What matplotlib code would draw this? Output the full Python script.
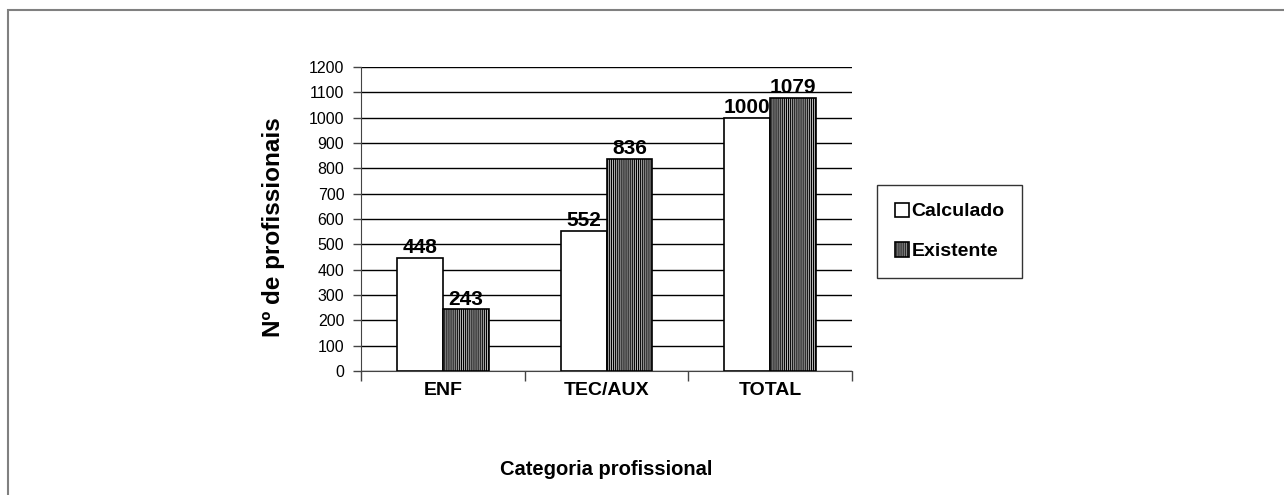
import matplotlib.pyplot as plt
import matplotlib.patches as mpatches
import numpy as np

plt.rcParams['font.family'] = ['Liberation Sans', 'DejaVu Sans']
plt.rcParams['hatch.linewidth'] = 0.8
plt.rcParams['hatch.color'] = '#474747'

categorias = ["ENF", "TEC/AUX", "TOTAL"]
calculado = [448, 552, 1000]
existente = [243, 836, 1079]

W, H = 1284, 495
fig = plt.figure(figsize=(W / 100, H / 100), dpi=100)

# outer gray frame (runs off the right and bottom edges)
fig.patches.append(mpatches.Rectangle((8 / W, -1), 2, 2 - 10 / H, transform=fig.transFigure,
                                      fill=False, edgecolor='#808080', linewidth=1.5))

ax = fig.add_axes([361 / W, 1 - 371 / H, (852 - 361) / W, (371 - 67) / H])

x = np.arange(len(categorias))
w = 0.28
b1 = ax.bar(x - w / 2, calculado, w, color='white', edgecolor='black', linewidth=1.2,
            label='Calculado', zorder=3)
b2 = ax.bar(x + w / 2, existente, w, color='#bdbdbd', edgecolor='black', linewidth=1.2,
            hatch='||||||||', label='Existente', zorder=3)
for bars in (b1, b2):
    for r in bars:
        ax.text(r.get_x() + r.get_width() / 2, r.get_height() + 3, str(int(r.get_height())),
                ha='center', va='bottom', fontsize=15, fontweight='bold', zorder=4)

ax.set_xlim(-0.5, 2.5)
ax.set_ylim(0, 1200)
ax.set_yticks(range(0, 1201, 100))
ax.yaxis.grid(True, color='black', linewidth=1, zorder=0)
ax.tick_params(axis='y', labelsize=11.5, length=6, width=1, pad=6, color='#444444')

ax.set_xticks([-0.5, 0.5, 1.5, 2.5])
ax.set_xticklabels([])
ax.tick_params(axis='x', which='major', length=7, width=1, color='#444444')
ax.set_xticks(x, minor=True)
ax.set_xticklabels(categorias, minor=True, fontsize=14, fontweight='bold')
ax.tick_params(axis='x', which='minor', length=0, pad=8)

for s in ('top', 'right'):
    ax.spines[s].set_visible(False)
ax.spines['left'].set_color('#444444')
ax.spines['bottom'].set_color('#444444')

ax.set_xlabel('Categoria profissional', fontsize=14.5, fontweight='bold', labelpad=44)
ax.set_ylabel('Nº de profissionais', fontsize=17.5, fontweight='bold')
ax.yaxis.set_label_coords(-0.155, 0.474)

leg = fig.legend(handles=[b1, b2], loc='upper left', bbox_to_anchor=(877 / W, 1 - 185 / H),
                 frameon=True, fancybox=False, edgecolor='black',
                 handlelength=0.75, handleheight=0.75, handletextpad=0.12, labelspacing=1.13,
                 borderpad=0.9, borderaxespad=0, prop={'weight': 'bold', 'size': 14})
leg.get_frame().set_linewidth(1)

fig.savefig('out.png', dpi=100)
